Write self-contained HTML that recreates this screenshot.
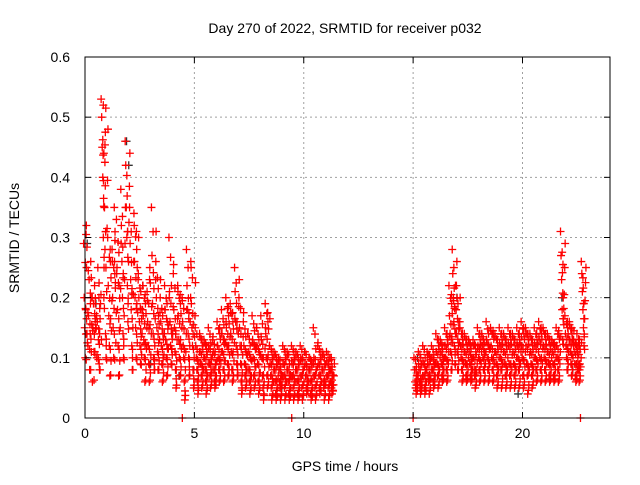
<!DOCTYPE html>
<html><head><meta charset="utf-8"><style>
body{margin:0;background:#fff}
svg text{font-family:"Liberation Sans",sans-serif;font-size:14px;fill:#000}
</style></head><body>
<svg id="chart" width="640" height="480" viewBox="0 0 640 480" xmlns="http://www.w3.org/2000/svg">
<rect width="640" height="480" fill="#fff"/>
<text x="345" y="33" text-anchor="middle">Day 270 of 2022, SRMTID for receiver p032</text>
<text x="345" y="471" text-anchor="middle">GPS time / hours</text>
<text transform="translate(19,238) rotate(-90)" text-anchor="middle">SRMTID / TECUs</text>
<g id="grid"></g>
<g id="points"></g>
<rect x="85" y="57" width="525" height="361" fill="none" stroke="#000" stroke-width="1"/>
<g id="ticks"></g>
</svg>
<script>
const xTicks=[0,5,10,15,20];
const yTicks=[0,0.1,0.2,0.3,0.4,0.5,0.6];
const yTickLabels=["0","0.1","0.2","0.3","0.4","0.5","0.6"];
// bins: first value = hour, rest = SRMTID values (red series)
const redBins=[
[0.0,0.29,0.2,0.15,0.1,0.18,0.32],[0.2,0.12,0.17,0.23,0.08,0.14,0.26],[0.4,0.06,0.15,0.19,0.11,0.22,0.16],
[0.6,0.1,0.16,0.25,0.13,0.2,0.08],[0.8,0.53,0.5,0.45,0.4,0.3,0.2],[0.9,0.52,0.44,0.35,0.28,0.14,0.1],
[1.1,0.3,0.22,0.17,0.12,0.07,0.26],[1.3,0.28,0.2,0.15,0.1,0.35,0.24],[1.5,0.33,0.25,0.18,0.12,0.07,0.22],
[1.7,0.38,0.32,0.26,0.2,0.14,0.1],[1.9,0.46,0.42,0.35,0.3,0.22,0.16],[2.1,0.35,0.29,0.23,0.18,0.12,0.08],
[2.3,0.34,0.26,0.2,0.15,0.1,0.28],[2.5,0.24,0.2,0.16,0.12,0.09,0.18],[2.7,0.22,0.17,0.13,0.1,0.06,0.19],
[2.9,0.21,0.16,0.12,0.09,0.06,0.25],[3.1,0.35,0.27,0.19,0.14,0.1,0.08],[3.3,0.26,0.2,0.15,0.11,0.08,0.17],
[3.5,0.2,0.16,0.12,0.09,0.06,0.14],[3.7,0.22,0.18,0.13,0.1,0.07,0.16],[3.9,0.3,0.21,0.16,0.12,0.09,0.14],
[4.1,0.24,0.18,0.15,0.11,0.08,0.05],[4.3,0.22,0.17,0.13,0.1,0.07,0.19],[4.5,0.2,0.16,0.12,0.1,0.06,0.03],
[4.7,0.28,0.22,0.18,0.14,0.1,0.07],[4.9,0.26,0.19,0.15,0.12,0.08,0.05],[5.1,0.15,0.12,0.1,0.08,0.06,0.04],
[5.3,0.14,0.11,0.09,0.07,0.05,0.12],[5.5,0.13,0.1,0.08,0.06,0.04,0.11],[5.7,0.15,0.12,0.09,0.07,0.05,0.1],
[5.9,0.13,0.11,0.08,0.06,0.05,0.09],[6.1,0.16,0.12,0.1,0.08,0.06,0.14],[6.3,0.18,0.14,0.11,0.08,0.06,0.13],
[6.5,0.2,0.15,0.12,0.09,0.07,0.17],[6.7,0.19,0.14,0.11,0.08,0.06,0.16],[6.9,0.25,0.21,0.16,0.12,0.09,0.07],
[7.1,0.2,0.15,0.12,0.09,0.06,0.04],[7.3,0.16,0.12,0.09,0.07,0.05,0.11],[7.5,0.14,0.11,0.08,0.06,0.04,0.1],
[7.7,0.17,0.13,0.1,0.07,0.05,0.12],[7.9,0.15,0.12,0.09,0.06,0.04,0.11],[8.1,0.17,0.13,0.1,0.07,0.05,0.03],
[8.3,0.19,0.14,0.1,0.07,0.05,0.16],[8.5,0.12,0.09,0.07,0.05,0.03,0.1],[8.7,0.11,0.08,0.06,0.04,0.03,0.09],
[8.9,0.1,0.08,0.06,0.05,0.03,0.07],[9.1,0.12,0.09,0.07,0.05,0.03,0.1],[9.3,0.11,0.08,0.06,0.04,0.03,0.07],
[9.5,0.12,0.09,0.07,0.05,0.03,0.1],[9.7,0.11,0.08,0.06,0.04,0.03,0.09],[9.9,0.12,0.1,0.07,0.05,0.03,0.08],
[10.1,0.11,0.09,0.07,0.05,0.04,0.06],[10.3,0.1,0.08,0.06,0.04,0.03,0.09],[10.5,0.15,0.1,0.07,0.05,0.03,0.08],
[10.7,0.12,0.09,0.07,0.05,0.04,0.1],[10.9,0.11,0.08,0.06,0.05,0.03,0.09],[11.1,0.11,0.09,0.07,0.05,0.03,0.08],
[11.25,0.1,0.08,0.06,0.05,0.04,0.07],
[15.1,0.1,0.08,0.06,0.05,0.04,0.07],[15.3,0.11,0.08,0.06,0.05,0.04,0.09],[15.5,0.12,0.09,0.07,0.05,0.04,0.08],
[15.7,0.11,0.09,0.07,0.06,0.04,0.1],[15.9,0.12,0.1,0.08,0.06,0.05,0.09],[16.1,0.14,0.11,0.09,0.07,0.05,0.12],
[16.3,0.13,0.11,0.09,0.07,0.06,0.1],[16.5,0.15,0.12,0.1,0.08,0.06,0.13],[16.7,0.22,0.17,0.14,0.11,0.08,0.19],
[16.85,0.28,0.24,0.2,0.16,0.12,0.09],[17.0,0.22,0.18,0.14,0.11,0.08,0.16],[17.2,0.15,0.12,0.1,0.08,0.06,0.13],
[17.4,0.14,0.11,0.09,0.07,0.06,0.12],[17.6,0.13,0.11,0.09,0.07,0.06,0.1],[17.8,0.13,0.1,0.08,0.07,0.05,0.11],
[18.0,0.15,0.12,0.1,0.08,0.06,0.13],[18.2,0.14,0.12,0.1,0.08,0.06,0.11],[18.4,0.16,0.13,0.1,0.08,0.06,0.12],
[18.6,0.15,0.12,0.1,0.08,0.06,0.14],[18.8,0.14,0.11,0.09,0.07,0.05,0.12],[19.0,0.15,0.12,0.1,0.08,0.05,0.13],
[19.2,0.14,0.11,0.09,0.07,0.05,0.12],[19.4,0.15,0.12,0.09,0.07,0.05,0.13],[19.6,0.14,0.11,0.09,0.07,0.05,0.12],
[19.8,0.15,0.12,0.1,0.08,0.05,0.13],[20.0,0.16,0.12,0.1,0.07,0.05,0.14],[20.2,0.15,0.12,0.09,0.07,0.04,0.13],
[20.4,0.14,0.11,0.09,0.07,0.05,0.12],[20.6,0.15,0.12,0.1,0.08,0.06,0.13],[20.8,0.16,0.13,0.1,0.08,0.06,0.14],
[21.0,0.15,0.12,0.1,0.08,0.06,0.13],[21.2,0.14,0.11,0.09,0.07,0.06,0.12],[21.4,0.13,0.11,0.09,0.07,0.06,0.12],
[21.6,0.15,0.12,0.1,0.08,0.06,0.14],[21.8,0.31,0.27,0.23,0.18,0.13,0.2],[22.0,0.17,0.14,0.12,0.1,0.08,0.15],
[22.2,0.16,0.13,0.11,0.09,0.07,0.14],[22.4,0.13,0.11,0.09,0.07,0.06,0.12],[22.55,0.14,0.11,0.09,0.08,0.06,0.12],
[22.75,0.26,0.24,0.21,0.18,0.15,0.12]
];
const blackHours=[0.1,0.5,1.9,2.0,3.0,4.3,9.0,15.2,17.0,19.8,21.8,22.3];
const blackValues=[0.29,0.19,0.46,0.42,0.09,0.07,0.05,0.1,0.2,0.04,0.2,0.08];
const zeroHours=[4.45,9.45,15.0,22.65];

const X=h=>85+h*(525/24), Y=v=>418-v*(361/0.6);
const NS="http://www.w3.org/2000/svg";
const grid=document.getElementById('grid'),ticks=document.getElementById('ticks'),pts=document.getElementById('points');
function mk(tag,attrs,parent){const e=document.createElementNS(NS,tag);for(const k in attrs)e.setAttribute(k,attrs[k]);parent.appendChild(e);return e;}
xTicks.forEach(t=>{
  const x=X(t);
  if(t>0){const g=mk('line',{x1:x,y1:57,x2:x,y2:418,stroke:'#a0a0a0','stroke-dasharray':'2,3'},grid);
  
  }
  mk('line',{x1:x,y1:418,x2:x,y2:412,stroke:'#000'},ticks);mk('line',{x1:x,y1:57,x2:x,y2:63,stroke:'#000'},ticks);
  const l=mk('text',{x:x,y:438,'text-anchor':'middle'},ticks);l.textContent=t;
  
  
});
yTicks.forEach((t,i)=>{
  const y=Y(t);
  if(t>0&&t<0.6){const g=mk('line',{x1:85,y1:y,x2:610,y2:y,stroke:'#a0a0a0','stroke-dasharray':'2,3'},grid);
  
  }
  mk('line',{x1:85,y1:y,x2:91,y2:y,stroke:'#000'},ticks);mk('line',{x1:610,y1:y,x2:604,y2:y,stroke:'#000'},ticks);
  const l=mk('text',{x:70,y:y+5,'text-anchor':'end'},ticks);l.textContent=yTickLabels[i];
  
  
});
function plus(h,v,c){const x=X(h),y=Y(v);
  const p=mk('path',{d:`M${x-4} ${y}H${x+4}M${x} ${y-4}V${y+4}`,stroke:c,'stroke-width':1.3},pts);
  
  }
blackHours.forEach((h,i)=>plus(h,blackValues[i],'#333'));
redBins.forEach(b=>{const h=b[0];for(let i=1;i<b.length;i++){
  plus(h+(i-3.5)*0.025,b[i],'#f00');
  plus(h+0.1+(3.5-i)*0.02,(b[i]+b[(i%(b.length-1))+1])/2,'#f00');
  plus(h+0.05+(i-3.5)*0.015,b[i]*0.85+0.012,'#f00');}});
zeroHours.forEach(h=>plus(h,0,'#f00'));
</script>
</body></html>
